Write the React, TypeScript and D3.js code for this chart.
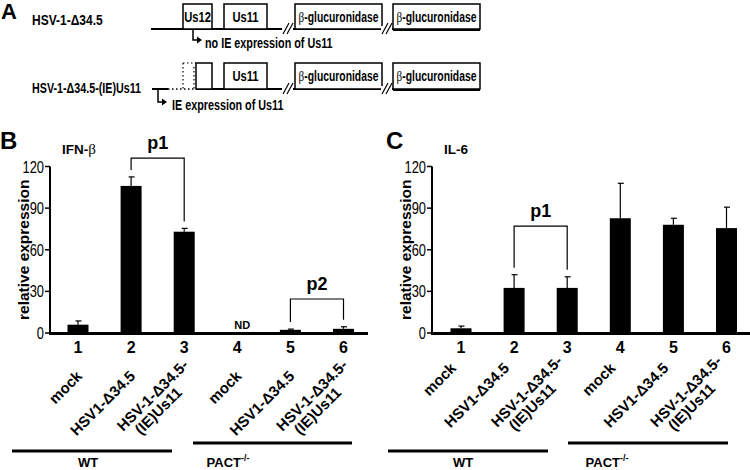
import React from "react";
import * as d3 from "d3";

// ---------- data ----------
const categories = ["1", "2", "3", "4", "5", "6"];
const categoryLabels: string[][] = [
  ["mock"],
  ["HSV1-Δ34.5"],
  ["HSV-1-Δ34.5-", "(IE)Us11"],
  ["mock"],
  ["HSV1-Δ34.5"],
  ["HSV-1-Δ34.5-", "(IE)Us11"],
];
const ifnValues = [6, 106, 73, 0, 2.3, 3];
const ifnErrors = [2.7, 6.5, 2.4, 0, 0.5, 1.5];
const ifnNotDetected = [false, false, false, true, false, false];
const il6Values = [3.4, 32.5, 32.5, 82.7, 78, 75.6];
const il6Errors = [1.6, 9.5, 8, 25.2, 4.7, 15.1];
const yTicks = [0, 30, 60, 90, 120];
const yDomain = [0, 120];
const ifnBrackets = [
  { a: "2", b: "3", level: 126, label: "p1" },
  { a: "5", b: "6", level: 24.5, label: "p2" },
];
const il6Brackets = [{ a: "2", b: "3", level: 77, label: "p1" }];
const groupNames = ["WT", "PACT"];

const BOLD = "'Liberation Sans', Arial, Helvetica, sans-serif";
const SERIF = "'Liberation Serif', 'DejaVu Serif', serif";
const NARROW_SCALE = 0.78;

const y = d3.scaleLinear().domain(yDomain).range([333, 166.5]);

function NText(props: {
  x: number;
  y: number;
  size: number;
  bold?: boolean;
  anchor?: "start" | "middle" | "end";
  dy?: string;
  scale?: number;
  children: React.ReactNode;
}) {
  const s = props.scale ?? NARROW_SCALE;
  return (
    <text
      transform={`translate(${props.x},${props.y}) scale(${s},1)`}
      textAnchor={props.anchor ?? "start"}
      dy={props.dy}
      fontFamily={BOLD}
      fontWeight={props.bold ? "bold" : "normal"}
      fontSize={props.size}
    >
      {props.children}
    </text>
  );
}

type PanelProps = {
  letter: string;
  letterX: number;
  titleBeta: boolean;
  title: string;
  axisX: number;
  axisEnd: number;
  x: d3.ScalePoint<string>;
  values: number[];
  errors: number[];
  nd?: boolean[];
  brackets: { a: string; b: string; level: number; label: string }[];
  yLabelX: number;
  labelDx: number;
  labelY1: number;
  labelY2: number;
  wtLine: [number, number];
  pactLine: [number, number];
  wtTextX: number;
  pactTextX: number;
};

function Panel(p: PanelProps) {
  const barW = 21;
  const y0 = y(0);
  return (
    <g>
      <text x={p.letterX} y={149} fontFamily={BOLD} fontWeight="900" fontSize={24}>
        {p.letter}
      </text>
      <text x={p.axisX + 12} y={154} fontFamily={BOLD} fontWeight="bold" fontSize={13.5}>
        {p.titleBeta ? (
          <>
            IFN-<tspan fontFamily={SERIF} fontWeight="normal" fontSize={15}>β</tspan>
          </>
        ) : (
          p.title
        )}
      </text>
      <text
        transform={`translate(${p.yLabelX},${(y(0) + y(120)) / 2}) rotate(-90)`}
        textAnchor="middle"
        fontFamily={BOLD}
        fontWeight="bold"
        fontSize={15.5}
      >
        relative expression
      </text>
      {/* y axis */}
      <line x1={p.axisX} x2={p.axisX} y1={y(120)} y2={y0} stroke="#000" strokeWidth={2} />
      {yTicks.map((t) => (
        <g key={t}>
          <line x1={p.axisX - 5} x2={p.axisX} y1={y(t)} y2={y(t)} stroke="#000" strokeWidth={1.5} />
          <NText x={p.axisX - 6} y={y(t)} dy="0.36em" anchor="end" size={17} scale={0.76}>
            {t}
          </NText>
        </g>
      ))}
      {/* bars */}
      {categories.map((c, i) => {
        const cx = p.x(c)!;
        const v = p.values[i];
        const e = p.errors[i];
        if (p.nd && p.nd[i]) {
          return (
            <text key={c} x={cx + 5} y={y0 - 4} textAnchor="middle" fontFamily={BOLD} fontWeight="bold" fontSize={11}>
              ND
            </text>
          );
        }
        return (
          <g key={c}>
            <line x1={cx} x2={cx} y1={y(v)} y2={y(v + e)} stroke="#000" strokeWidth={1.2} />
            <line x1={cx - 2.5} x2={cx + 3.5} y1={y(v + e)} y2={y(v + e)} stroke="#000" strokeWidth={1.2} />
            <rect x={cx - barW / 2} y={y(v)} width={barW} height={y0 - y(v)} fill="#000" />
          </g>
        );
      })}
      {/* x axis */}
      <line x1={p.axisX - 1} x2={p.axisEnd} y1={y0 + 0.5} y2={y0 + 0.5} stroke="#000" strokeWidth={3} />
      {/* brackets */}
      {p.brackets.map((b) => {
        const ia = categories.indexOf(b.a);
        const ib = categories.indexOf(b.b);
        const xa = p.x(b.a)!;
        const xb = p.x(b.b)!;
        const ya = y(p.values[ia] + p.errors[ia]) - 7;
        const yb = y(p.values[ib] + p.errors[ib]) - 7;
        const yl = y(b.level);
        return (
          <g key={b.label + b.a}>
            <path d={`M${xa},${ya}V${yl}H${xb}V${yb}`} fill="none" stroke="#000" strokeWidth={1.2} />
            <text x={(xa + xb) / 2} y={yl - 9} textAnchor="middle" fontFamily={BOLD} fontWeight="bold" fontSize={18}>
              {b.label}
            </text>
          </g>
        );
      })}
      {/* category numbers */}
      {categories.map((c) => (
        <text key={c} x={p.x(c)!} y={353} textAnchor="middle" fontFamily={BOLD} fontWeight="bold" fontSize={16}>
          {c}
        </text>
      ))}
      {/* category labels */}
      {categoryLabels.map((lines, i) => {
        const cx = p.x(categories[i])! + p.labelDx;
        const ly = lines.length > 1 ? p.labelY2 : p.labelY1;
        return (
          <g key={i} transform={`translate(${cx},${ly}) rotate(-45)`}>
            {lines.map((l, j) => (
              <text
                key={j}
                x={j === 0 ? 0 : -24}
                y={j * 15}
                textAnchor="end"
                fontFamily={BOLD}
                fontWeight="bold"
                fontSize={15}
              >
                {l}
              </text>
            ))}
          </g>
        );
      })}
      {/* groups */}
      <line x1={p.wtLine[0]} x2={p.wtLine[1]} y1={451} y2={451} stroke="#000" strokeWidth={3} />
      <line x1={p.pactLine[0]} x2={p.pactLine[1]} y1={443} y2={443} stroke="#000" strokeWidth={3} />
      <text x={p.wtTextX} y={467} textAnchor="middle" fontFamily={BOLD} fontWeight="bold" fontSize={13}>
        {groupNames[0]}
      </text>
      <text x={p.pactTextX} y={467} textAnchor="middle" fontFamily={BOLD} fontWeight="bold" fontSize={13}>
        {groupNames[1]}
        <tspan fontSize={9} dy={-6}>-/-</tspan>
      </text>
    </g>
  );
}

function Slash({ x, yc }: { x: number; yc: number }) {
  return (
    <g>
      <rect x={x - 1} y={yc - 3} width={11} height={6} fill="#fff" />
      <line x1={x} y1={yc + 5} x2={x + 6} y2={yc - 6} stroke="#000" strokeWidth={1.2} />
      <line x1={x + 4} y1={yc + 5} x2={x + 10} y2={yc - 6} stroke="#000" strokeWidth={1.2} />
    </g>
  );
}

function Box({ x0, x1, y0, y1, label, beta }: { x0: number; x1: number; y0: number; y1: number; label: string; beta?: boolean }) {
  return (
    <g>
      <rect x={x0} y={y0} width={x1 - x0} height={y1 - y0} fill="#fff" stroke="#000" strokeWidth={1.5} />
      <NText x={(x0 + x1) / 2} y={(y0 + y1) / 2 + 5} anchor="middle" bold size={14} scale={beta ? 0.74 : 0.8}>
        {beta ? (
          <>
            <tspan fontFamily={SERIF} fontWeight="normal" fontSize={15}>β</tspan>
            {label}
          </>
        ) : (
          label
        )}
      </NText>
    </g>
  );
}

function PanelA() {
  const r1 = { top: 4, base: 29 };
  const r2 = { top: 63, base: 89 };
  return (
    <g>
      <text x={1} y={19} fontFamily={BOLD} fontWeight="900" fontSize={22}>A</text>
      <NText x={32} y={25} bold size={15} scale={0.8}>HSV-1-Δ34.5</NText>
      <NText x={32} y={93} bold size={14.5} scale={0.74}>HSV-1-Δ34.5-(IE)Us11</NText>
      {/* row 1 */}
      <line x1={151} x2={480} y1={r1.base} y2={r1.base} stroke="#000" strokeWidth={2} />
      <line x1={393} x2={480} y1={r1.base + 0.5} y2={r1.base + 0.5} stroke="#000" strokeWidth={3} />
      <Box x0={183} x1={212} y0={r1.top} y1={r1.base} label="Us12" />
      <Box x0={224} x1={267} y0={r1.top} y1={r1.base} label="Us11" />
      <Slash x={283} yc={r1.base} />
      <Box x0={295} x1={382} y0={r1.top} y1={r1.base} label="-glucuronidase" beta />
      <Slash x={382} yc={r1.base} />
      <Box x0={393} x1={480} y0={r1.top} y1={r1.base} label="-glucuronidase" beta />
      <path d={`M193,${r1.base}V40H198`} fill="none" stroke="#000" strokeWidth={1.5} />
      <path d="M197,36.5L202,40L197,43.5Z" fill="#000" />
      <NText x={205} y={48} bold size={15} scale={0.72}>no IE expression of Us11</NText>
      {/* row 2 */}
      <line x1={152} x2={168} y1={r2.base} y2={r2.base} stroke="#000" strokeWidth={2} />
      <line x1={168} x2={196} y1={r2.base} y2={r2.base} stroke="#000" strokeWidth={1.5} strokeDasharray="1.5,2.5" />
      <line x1={196} x2={480} y1={r2.base} y2={r2.base} stroke="#000" strokeWidth={2} />
      <line x1={393} x2={480} y1={r2.base + 0.5} y2={r2.base + 0.5} stroke="#000" strokeWidth={3} />
      <line x1={183} x2={183} y1={r2.top} y2={r2.base} stroke="#000" strokeWidth={1.2} strokeDasharray="1.5,2.5" />
      <line x1={183} x2={196} y1={r2.top} y2={r2.top} stroke="#000" strokeWidth={1.2} strokeDasharray="1.5,2.5" />
      <line x1={194} x2={194} y1={r2.top + 4} y2={r2.base} stroke="#000" strokeWidth={1.2} strokeDasharray="1.5,2.5" />
      <rect x={196} y={r2.top} width={16} height={r2.base - r2.top} fill="#fff" stroke="#000" strokeWidth={1.5} />
      <Box x0={224} x1={267} y0={r2.top} y1={r2.base} label="Us11" />
      <Slash x={283} yc={r2.base} />
      <Box x0={295} x1={382} y0={r2.top} y1={r2.base} label="-glucuronidase" beta />
      <Slash x={382} yc={r2.base} />
      <Box x0={393} x1={480} y0={r2.top} y1={r2.base} label="-glucuronidase" beta />
      <path d={`M158,${r2.base}V102H163`} fill="none" stroke="#000" strokeWidth={1.5} />
      <path d="M162,98.5L167,102L162,105.5Z" fill="#000" />
      <NText x={172} y={110} bold size={15} scale={0.72}>IE expression of Us11</NText>
    </g>
  );
}

export default function App() {
  const xB = d3.scalePoint<string>().domain(categories).range([78, 343.5]);
  const xC = d3.scalePoint<string>().domain(categories).range([461, 726.5]);
  return (
    <svg width={750} height={470} style={{ position: "absolute", left: 0, top: 0, background: "#fff" }}>
      <rect width={750} height={470} fill="#fff" />
      <PanelA />
      <Panel
        letter="B"
        letterX={0}
        title="IFN-β"
        titleBeta
        axisX={50}
        axisEnd={368}
        x={xB}
        values={ifnValues}
        errors={ifnErrors}
        nd={ifnNotDetected}
        brackets={ifnBrackets}
        yLabelX={29}
        labelDx={5}
        labelY1={377}
        labelY2={366}
        wtLine={[12, 172]}
        pactLine={[193, 352]}
        wtTextX={88}
        pactTextX={228}
      />
      <Panel
        letter="C"
        letterX={386}
        title="IL-6"
        titleBeta={false}
        axisX={432}
        axisEnd={750}
        x={xC}
        values={il6Values}
        errors={il6Errors}
        brackets={il6Brackets}
        yLabelX={411}
        labelDx={-4}
        labelY1={369}
        labelY2={362}
        wtLine={[388, 548]}
        pactLine={[568, 728]}
        wtTextX={463}
        pactTextX={607}
      />
    </svg>
  );
}
